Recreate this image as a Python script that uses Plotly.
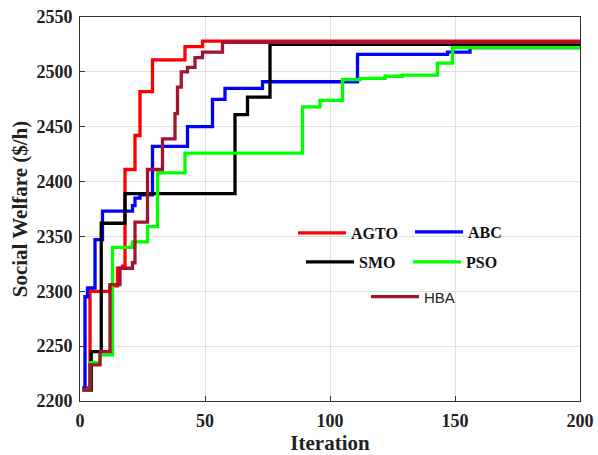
import plotly.graph_objects as go

# ---- data ----
agto_x = [1, 4, 12, 15, 17, 18, 22, 24, 29, 42, 49, 200]
agto_y = [2212, 2300, 2305, 2321, 2323, 2411, 2442, 2482, 2511, 2523, 2528, 2528]

abc_x = [1, 2, 3, 6, 9, 21, 22, 24, 29, 43, 53, 58, 73, 111, 147, 156, 200]
abc_y = [2212, 2295, 2303, 2347, 2373, 2378, 2385, 2388, 2432, 2450, 2475, 2485, 2491, 2516, 2518, 2522, 2522]

smo_x = [1, 4.5, 8.5, 18, 62, 67, 76, 200]
smo_y = [2210, 2245, 2362, 2389, 2461, 2477, 2525, 2525]

pso_x = [1, 4, 8, 13, 21, 27, 31, 42, 89, 96, 105, 112, 122, 129, 143, 149, 200]
pso_y = [2210, 2235, 2242, 2340, 2345, 2359, 2408, 2426, 2468, 2474, 2493, 2494, 2496, 2497, 2508, 2522, 2522]

hba_x = [1, 4, 8, 12, 16, 21, 22, 27, 33, 38, 39, 40.5, 43, 46, 49, 57, 200]
hba_y = [2210, 2233, 2245, 2306, 2321, 2326, 2363, 2411, 2439, 2462, 2486, 2500, 2504, 2513, 2518, 2527, 2527]

x_ticks = [0, 50, 100, 150, 200]
y_ticks = [2200, 2250, 2300, 2350, 2400, 2450, 2500, 2550]

SERIF = "Liberation Serif, Times New Roman, serif"
SANS = "Liberation Sans, Arial, sans-serif"

fig = go.Figure()

def add(x, y, name, color, legend):
    fig.add_trace(go.Scatter(x=x, y=y, name=name, mode="lines",
                             line=dict(color=color, width=3.3, shape="hv"),
                             legend=legend, showlegend=True))

add(agto_x, agto_y, "AGTO", "#FF0000", "legend")
add(abc_x, abc_y, "ABC", "#0000FF", "legend2")
add(smo_x, smo_y, "SMO", "#000000", "legend3")
add(pso_x, pso_y, "PSO", "#00FF00", "legend4")
add(hba_x, hba_y, "HBA", "#A2142F", "legend5")

axis_common = dict(showline=True, linecolor="#333333", linewidth=1, mirror=True,
                   ticks="inside", ticklen=5, tickcolor="#333333", automargin=False,
                   showgrid=True, gridcolor="#E0E0E0", gridwidth=1, zeroline=False,
                   ticklabelstandoff=3, ticklabeloverflow="allow",
                   tickfont=dict(family=SERIF, size=18, color="#222222", weight="bold"))

bold_leg = dict(family=SERIF, size=16, color="#111111", weight="bold")

def leg(x, y, font):
    return dict(x=x, y=y, xanchor="left", yanchor="middle", bgcolor="rgba(0,0,0,0)",
                itemwidth=48, font=font, borderwidth=0)

fig.update_layout(
    width=598, height=455,
    showlegend=True,
    margin=dict(l=80, r=18, t=17, b=54),
    paper_bgcolor="white", plot_bgcolor="white",
    xaxis=dict(range=[0, 200], tickvals=x_ticks,
               title=dict(text="Iteration", standoff=3,
                          font=dict(family=SERIF, size=21, color="#222222", weight="bold")),
               **axis_common),
    yaxis=dict(range=[2200, 2550], tickvals=y_ticks,
               title=dict(text="Social Welfare ($/h)", standoff=3,
                          font=dict(family=SERIF, size=21, color="#222222", weight="bold")),
               **axis_common),
    legend=leg(0.426, 0.4375, bold_leg),
    legend2=leg(0.66, 0.44, bold_leg),
    legend3=leg(0.442, 0.362, bold_leg),
    legend4=leg(0.656, 0.362, bold_leg),
    legend5=leg(0.572, 0.271, dict(family=SANS, size=15, color="#222222")),
)

# remove the page's default body margin so the 598x455 figure fills the window
fig.write_html("out.html", config={"displayModeBar": False},
               post_script="document.body.style.margin='0';")
